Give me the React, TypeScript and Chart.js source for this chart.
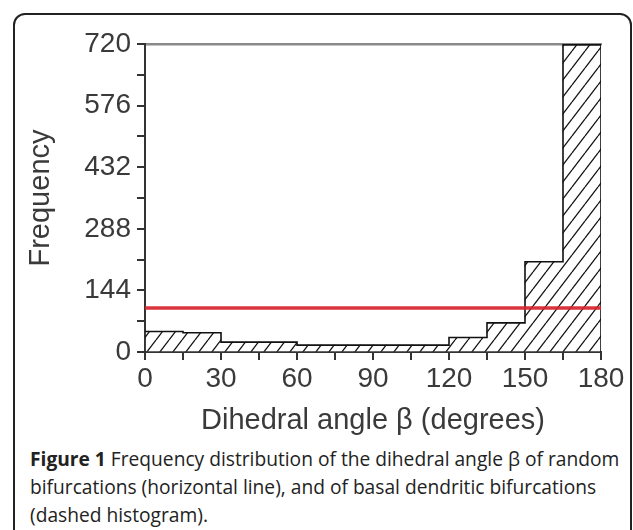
import React, { useEffect, useRef } from "react";
import { Chart, registerables } from "chart.js";

Chart.register(...registerables);

// ---- data ----
const binStarts = [0, 15, 30, 45, 60, 75, 90, 105, 120, 135, 150, 165];
const binWidth = 15;
const basalCounts = [48, 45, 23, 23, 16, 16, 16, 16, 34, 68, 211, 718];
const randomLevel = 103;
const xMin = 0;
const xMax = 180;
const xStep = 15;
const xLabelEvery = 30;
const yMin = 0;
const yMax = 720;
const yStep = 72;
const yLabelEvery = 144;
const xTitle = "Dihedral angle \u03b2 (degrees)";
const yTitle = "Frequency";

function makeHatch(): CanvasPattern | string {
  const w = 13;
  const h = 17;
  const c = document.createElement("canvas");
  c.width = w;
  c.height = h;
  const g = c.getContext("2d");
  if (!g) return "#fff";
  g.fillStyle = "#ffffff";
  g.fillRect(0, 0, w, h);
  g.strokeStyle = "#111";
  g.lineWidth = 1.3;
  for (const off of [-w, 0, w]) {
    g.beginPath();
    g.moveTo(off, h);
    g.lineTo(off + w, 0);
    g.stroke();
  }
  const p = g.createPattern(c, "repeat");
  return p || "#fff";
}

export default function App() {
  const ref = useRef<HTMLCanvasElement | null>(null);

  useEffect(() => {
    if (!ref.current) return;
    const hatch = makeHatch();

    const bars = binStarts.map((s, i) => ({ x: s + binWidth / 2, y: basalCounts[i] }));

    const outline: { x: number; y: number }[] = [{ x: binStarts[0], y: 0 }];
    binStarts.forEach((s, i) => outline.push({ x: s, y: basalCounts[i] }));
    const lastEnd = binStarts[binStarts.length - 1] + binWidth;
    outline.push({ x: lastEnd, y: basalCounts[basalCounts.length - 1] });
    outline.push({ x: lastEnd, y: 0 });

    const fam = "'Liberation Sans', Arial, sans-serif";
    const tickFont = { family: fam, size: 28 };
    const axisColor = "#333";
    const textColor = "#3a3a3a";

    const chart = new Chart(ref.current, {
      type: "bar",
      data: {
        datasets: [
          {
            type: "line",
            label: "random",
            data: [
              { x: xMin, y: randomLevel },
              { x: xMax, y: randomLevel },
            ],
            xAxisID: "x",
            yAxisID: "y",
            borderColor: "rgba(215,35,45,0.92)",
            borderWidth: 3.5,
            pointRadius: 0,
            order: 0,
          } as any,
          {
            type: "line",
            label: "outline",
            data: outline,
            xAxisID: "x",
            yAxisID: "y",
            stepped: "before",
            borderColor: "#111",
            borderWidth: 1.6,
            pointRadius: 0,
            fill: false,
            order: 1,
          } as any,
          {
            type: "bar",
            label: "basal",
            data: bars,
            xAxisID: "x",
            yAxisID: "y",
            backgroundColor: hatch as any,
            borderWidth: 0,
            barPercentage: 1,
            categoryPercentage: 1,
            order: 2,
          } as any,
        ],
      },
      options: {
        animation: false,
        responsive: false,
        maintainAspectRatio: false,
        layout: { padding: { left: 0, top: 44, right: 32, bottom: 0 } },
        plugins: {
          legend: { display: false },
          tooltip: { enabled: false },
        },
        scales: {
          x: {
            type: "linear",
            position: "bottom",
            offset: false,
            min: xMin,
            max: xMax,
            afterFit: (s: any) => {
              s.height = 88;
            },
            ticks: {
              stepSize: xStep,
              autoSkip: false,
              maxRotation: 0,
              padding: 2,
              color: textColor,
              font: tickFont,
              callback: (v: any) => (Number(v) % xLabelEvery === 0 ? String(v) : ""),
            },
            grid: {
              display: true,
              offset: false,
              drawOnChartArea: false,
              drawTicks: true,
              tickLength: 8,
              color: axisColor,
              lineWidth: 2,
            },
            border: { display: true, color: axisColor, width: 2 },
            title: {
              display: true,
              text: xTitle,
              color: textColor,
              font: { family: fam, size: 29 },
              padding: { top: 0, bottom: 2 },
            },
          },
          x2: {
            type: "linear",
            position: "top",
            display: true,
            offset: false,
            afterFit: (s: any) => {
              s.height = 0;
            },
            ticks: { display: false },
            grid: { display: false, drawTicks: false },
            border: { display: true, color: "#8a8a8a", width: 2.5 },
          },
          y: {
            type: "linear",
            position: "left",
            min: yMin,
            max: yMax,
            afterFit: (s: any) => {
              s.width = 145;
            },
            ticks: {
              stepSize: yStep,
              autoSkip: false,
              padding: 6,
              color: textColor,
              font: tickFont,
              callback: (v: any) => (Number(v) % yLabelEvery === 0 ? String(v) : ""),
            },
            grid: {
              display: true,
              drawOnChartArea: false,
              drawTicks: true,
              tickLength: 8,
              color: axisColor,
              lineWidth: 2,
            },
            border: { display: true, color: axisColor, width: 2 },
            title: {
              display: true,
              text: yTitle,
              color: textColor,
              font: { family: fam, size: 29 },
              padding: { top: 24, bottom: 0 },
            },
          },
        },
      } as any,
    });
    return () => chart.destroy();
  }, []);

  return (
    <div
      style={{
        position: "fixed",
        left: 0,
        top: 0,
        width: 633,
        height: 530,
        background: "#fff",
        overflow: "hidden",
      }}
    >
      <div
        style={{
          position: "absolute",
          left: 13,
          top: 13,
          width: 619,
          height: 540,
          boxSizing: "border-box",
          border: "2px solid #222",
          borderRadius: 12,
        }}
      />
      <canvas
        ref={ref}
        width={633}
        height={440}
        style={{ position: "absolute", left: 0, top: 0, width: 633, height: 440 }}
      />
      <div
        style={{
          position: "absolute",
          left: 30,
          top: 445,
          fontFamily: "'Open Sans', 'Noto Sans', sans-serif",
          fontSize: 19.2,
          lineHeight: "28px",
          color: "#222",
          whiteSpace: "nowrap",
        }}
      >
        <b>Figure 1</b> Frequency distribution of the dihedral angle {"\u03b2"} of random
        <br />
        bifurcations (horizontal line), and of basal dendritic bifurcations
        <br />
        (dashed histogram).
      </div>
    </div>
  );
}
